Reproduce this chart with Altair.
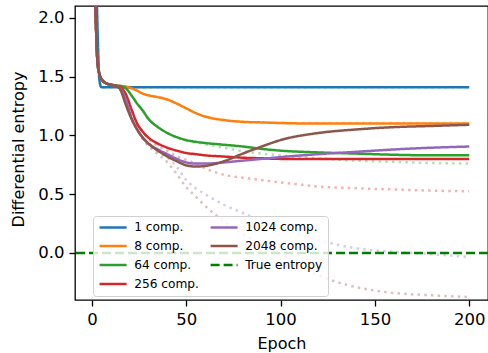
import altair as alt
import pandas as pd

# ---------------- data ----------------
EPOCHS = [1, 2, 3, 4, 5, 6, 8, 10, 12, 15, 18, 21, 24, 27, 30, 35, 40, 45, 50, 55,
          60, 70, 80, 90, 100, 120, 140, 160, 180, 200]

SERIES = ["1 comp.", "8 comp.", "64 comp.", "256 comp.", "1024 comp.", "2048 comp."]
COLORS = ["#1f77b4", "#ff7f0e", "#2ca02c", "#d62728", "#9467bd", "#8c564b"]
TRUE_LABEL = "True entropy"
TRUE_VALUE = 0.0
TRUE_COLOR = "#008000"
LEGEND_ORDER = SERIES + [TRUE_LABEL]

# solid (training) curves
C1 = [3.5, 2.6, 1.9, 1.47, 1.41, 1.41, 1.41, 1.41, 1.41, 1.41, 1.41, 1.41, 1.41, 1.41, 1.41,
      1.41, 1.41, 1.41, 1.41, 1.41, 1.41, 1.41, 1.41, 1.41, 1.41, 1.41, 1.41, 1.41, 1.41, 1.41]
C8 = [3.0, 2.05, 1.62, 1.52, 1.48, 1.46, 1.44, 1.43, 1.425, 1.42, 1.415, 1.40, 1.38, 1.355, 1.34,
      1.325, 1.305, 1.27, 1.23, 1.19, 1.16, 1.13, 1.115, 1.11, 1.105, 1.10, 1.10, 1.10, 1.10, 1.10]
C64 = [3.0, 2.05, 1.62, 1.52, 1.48, 1.46, 1.44, 1.43, 1.425, 1.42, 1.40, 1.34, 1.27, 1.21, 1.14,
       1.07, 1.02, 0.985, 0.96, 0.945, 0.935, 0.92, 0.905, 0.885, 0.87, 0.855, 0.845, 0.835, 0.83, 0.83]
C256 = [3.0, 2.05, 1.62, 1.52, 1.48, 1.46, 1.44, 1.43, 1.425, 1.41, 1.35, 1.22, 1.10, 1.03, 0.98,
        0.93, 0.895, 0.87, 0.85, 0.84, 0.83, 0.82, 0.81, 0.805, 0.80, 0.80, 0.80, 0.80, 0.80, 0.80]
C1024 = [3.0, 2.05, 1.62, 1.52, 1.48, 1.46, 1.44, 1.43, 1.425, 1.40, 1.30, 1.15, 1.05, 0.98, 0.93,
         0.88, 0.84, 0.80, 0.77, 0.76, 0.76, 0.77, 0.785, 0.80, 0.815, 0.84, 0.86, 0.88, 0.895, 0.905]
C2048 = [3.0, 2.05, 1.62, 1.52, 1.48, 1.46, 1.44, 1.43, 1.425, 1.39, 1.26, 1.14, 1.05, 0.98, 0.93,
         0.87, 0.82, 0.78, 0.745, 0.735, 0.74, 0.78, 0.845, 0.905, 0.96, 1.02, 1.05, 1.07, 1.08, 1.09]

# dotted (evaluation) curves
D1 = [3.5, 2.6, 1.9, 1.47, 1.41, 1.41, 1.41, 1.41, 1.41, 1.41, 1.41, 1.41, 1.41, 1.41, 1.41,
      1.41, 1.41, 1.41, 1.41, 1.41, 1.41, 1.41, 1.41, 1.41, 1.41, 1.41, 1.41, 1.41, 1.41, 1.41]
D8 = [3.0, 2.05, 1.62, 1.52, 1.48, 1.46, 1.44, 1.43, 1.425, 1.42, 1.415, 1.40, 1.38, 1.355, 1.34,
      1.325, 1.305, 1.27, 1.23, 1.19, 1.16, 1.13, 1.115, 1.11, 1.105, 1.105, 1.105, 1.105, 1.105, 1.105]
D64 = [3.0, 2.05, 1.62, 1.52, 1.48, 1.46, 1.44, 1.43, 1.425, 1.42, 1.40, 1.34, 1.27, 1.21, 1.14,
       1.07, 1.02, 0.98, 0.955, 0.94, 0.925, 0.895, 0.865, 0.845, 0.83, 0.805, 0.785, 0.775, 0.765, 0.76]
D256 = [3.0, 2.05, 1.62, 1.52, 1.48, 1.46, 1.44, 1.43, 1.425, 1.41, 1.35, 1.22, 1.10, 1.03, 0.97,
        0.91, 0.87, 0.82, 0.79, 0.76, 0.72, 0.665, 0.64, 0.62, 0.60, 0.565, 0.55, 0.54, 0.53, 0.525]
D1024 = [3.0, 2.05, 1.62, 1.52, 1.48, 1.46, 1.44, 1.43, 1.425, 1.40, 1.30, 1.15, 1.05, 0.97, 0.92,
         0.86, 0.81, 0.73, 0.62, 0.55, 0.50, 0.41, 0.34, 0.27, 0.21, 0.11, 0.04, 0.01, -0.01, -0.035]
D2048 = [3.0, 2.05, 1.62, 1.52, 1.48, 1.46, 1.44, 1.43, 1.425, 1.39, 1.26, 1.14, 1.05, 0.97, 0.91,
         0.84, 0.77, 0.67, 0.56, 0.48, 0.40, 0.27, 0.16, 0.07, -0.01, -0.19, -0.29, -0.34, -0.36, -0.375]

# half-widths of the shaded bands
S1 = [0.01, 0.01, 0.01, 0.01, 0.005, 0.005, 0.005, 0.005, 0.005, 0.005, 0.005, 0.005, 0.005, 0.005, 0.005,
      0.005, 0.005, 0.005, 0.005, 0.005, 0.005, 0.005, 0.005, 0.005, 0.005, 0.005, 0.005, 0.005, 0.005, 0.005]
S8 = [0.01, 0.01, 0.01, 0.01, 0.01, 0.01, 0.01, 0.01, 0.01, 0.01, 0.01, 0.02, 0.03, 0.035, 0.04,
      0.04, 0.04, 0.045, 0.045, 0.04, 0.03, 0.02, 0.015, 0.01, 0.01, 0.01, 0.01, 0.012, 0.014, 0.015]
S64 = [0.01, 0.01, 0.01, 0.01, 0.01, 0.01, 0.01, 0.01, 0.01, 0.01, 0.02, 0.04, 0.04, 0.035, 0.03,
       0.025, 0.02, 0.015, 0.015, 0.015, 0.012, 0.01, 0.01, 0.01, 0.01, 0.01, 0.01, 0.01, 0.01, 0.012]
S256 = [0.01, 0.01, 0.01, 0.01, 0.01, 0.01, 0.01, 0.01, 0.01, 0.015, 0.02, 0.025, 0.025, 0.02, 0.02,
        0.02, 0.015, 0.015, 0.015, 0.012, 0.01, 0.01, 0.01, 0.01, 0.01, 0.01, 0.01, 0.01, 0.01, 0.01]
S1024 = [0.01, 0.01, 0.01, 0.01, 0.01, 0.01, 0.01, 0.01, 0.01, 0.015, 0.02, 0.02, 0.02, 0.02, 0.02,
         0.02, 0.015, 0.015, 0.015, 0.015, 0.015, 0.012, 0.012, 0.012, 0.012, 0.012, 0.012, 0.012, 0.012, 0.012]
S2048 = [0.015, 0.015, 0.015, 0.015, 0.015, 0.015, 0.015, 0.015, 0.015, 0.02, 0.025, 0.025, 0.025, 0.025, 0.025,
         0.025, 0.02, 0.02, 0.02, 0.02, 0.02, 0.02, 0.02, 0.02, 0.02, 0.02, 0.022, 0.024, 0.026, 0.028]
T1 = S1
T8 = S8
T64 = [0.01, 0.01, 0.01, 0.01, 0.01, 0.01, 0.01, 0.01, 0.01, 0.01, 0.02, 0.03, 0.03, 0.03, 0.025,
       0.02, 0.02, 0.02, 0.02, 0.02, 0.02, 0.02, 0.02, 0.02, 0.02, 0.02, 0.02, 0.02, 0.02, 0.02]
T256 = [0.01, 0.01, 0.01, 0.01, 0.01, 0.01, 0.01, 0.01, 0.01, 0.015, 0.02, 0.025, 0.025, 0.025, 0.025,
        0.025, 0.025, 0.025, 0.025, 0.02, 0.02, 0.02, 0.02, 0.02, 0.02, 0.02, 0.02, 0.02, 0.02, 0.02]
T1024 = [0.01, 0.01, 0.01, 0.01, 0.01, 0.01, 0.01, 0.01, 0.01, 0.015, 0.02, 0.02, 0.025, 0.025, 0.03,
         0.03, 0.035, 0.04, 0.04, 0.04, 0.04, 0.04, 0.04, 0.04, 0.045, 0.045, 0.045, 0.045, 0.045, 0.045]
T2048 = [0.015, 0.015, 0.015, 0.015, 0.015, 0.015, 0.015, 0.015, 0.015, 0.02, 0.025, 0.025, 0.03, 0.035, 0.04,
         0.045, 0.05, 0.05, 0.055, 0.055, 0.06, 0.06, 0.06, 0.06, 0.06, 0.06, 0.06, 0.06, 0.06, 0.06]

TRAIN = [C1, C8, C64, C256, C1024, C2048]
TEST = [D1, D8, D64, D256, D1024, D2048]
TRAIN_SD = [S1, S8, S64, S256, S1024, S2048]
TEST_SD = [T1, T8, T64, T256, T1024, T2048]

# ---------------- build tables ----------------
rows = []
for k, name in enumerate(SERIES):
    for kind, means, sds in (("train", TRAIN[k], TRAIN_SD[k]), ("test", TEST[k], TEST_SD[k])):
        for e, m, s in zip(EPOCHS, means, sds):
            rows.append({"series": name, "order": k, "kind": kind, "epoch": e,
                         "mean": m, "lo": m - s, "hi": m + s})
df = pd.DataFrame(rows)
train_df = df[df.kind == "train"]
test_df = df[df.kind == "test"]
true_df = pd.DataFrame({"series": [TRUE_LABEL], "value": [TRUE_VALUE]})

color_map = dict(zip(SERIES, COLORS))
color_map[TRUE_LABEL] = TRUE_COLOR
color_range = [color_map[s] for s in LEGEND_ORDER]
dash_range = [[9, 4] if s == TRUE_LABEL else [1, 0] for s in LEGEND_ORDER]

FONT = "DejaVu Sans"

x_enc = alt.X("epoch:Q", scale=alt.Scale(domain=[-8.95, 209.95], nice=False, zero=False),
              axis=alt.Axis(values=[0, 50, 100, 150, 200], format="d", title="Epoch"))
y_scale = alt.Scale(domain=[-0.4, 2.1], nice=False, zero=False)
y_axis = alt.Axis(values=[0.0, 0.5, 1.0, 1.5, 2.0], format=".1f", title="Differential entropy",
                  titleY=143)

legend = alt.Legend(
    title=None, orient="none", legendX=18, legendY=210, columns=2,
    symbolType="M-1,0H5", symbolSize=81, symbolStrokeWidth=2.5, symbolOpacity=1,
    labelFont=FONT, labelFontSize=12.2, labelColor="black", labelOffset=24, labelLimit=200,
    fillColor="rgba(255,255,255,0.8)", strokeColor="#d0d0d0", cornerRadius=3, padding=5,
    rowPadding=6, columnPadding=6,
)
color_enc = alt.Color("series:N", scale=alt.Scale(domain=LEGEND_ORDER, range=color_range), legend=legend)
dash_enc = alt.StrokeDash("series:N", scale=alt.Scale(domain=LEGEND_ORDER, range=dash_range), legend=legend)

band_train = alt.Chart(train_df).mark_area(clip=True, opacity=0.3, interpolate="monotone").encode(
    x=x_enc, y=alt.Y("lo:Q", scale=y_scale, axis=y_axis), y2="hi:Q", color=color_enc,
    order="epoch:Q")
band_test = alt.Chart(test_df).mark_area(clip=True, opacity=0.14, interpolate="monotone").encode(
    x=x_enc, y=alt.Y("lo:Q", scale=y_scale, axis=y_axis), y2="hi:Q", color=color_enc,
    order="epoch:Q")
line_test = alt.Chart(test_df).mark_line(clip=True, strokeWidth=2.5, strokeDash=[2.5, 4.2], opacity=0.35,
                                         interpolate="monotone").encode(
    x=x_enc, y=alt.Y("mean:Q", scale=y_scale, axis=y_axis), color=color_enc,
    order="epoch:Q")
line_train = alt.Chart(train_df).mark_line(clip=True, strokeWidth=2.5, interpolate="monotone").encode(
    x=x_enc, y=alt.Y("mean:Q", scale=y_scale, axis=y_axis), color=color_enc, strokeDash=dash_enc,
    order="epoch:Q")
true_rule = alt.Chart(true_df).mark_rule(strokeWidth=2.5).encode(
    y=alt.Y("value:Q", scale=y_scale, axis=y_axis), color=color_enc, strokeDash=dash_enc)

chart = alt.layer(band_train, band_test, line_test, line_train, true_rule).properties(
    width=413, height=294,
    autosize=alt.AutoSizeParams(type="none"),
    padding={"left": 75, "top": 6, "right": 0, "bottom": 53},
).configure_view(
    stroke="black", strokeWidth=1.3
).configure_axis(
    domain=False, grid=False, ticks=True, tickColor="black", tickWidth=1.3, tickSize=6,
    labelFont=FONT, labelFontSize=16.5, labelColor="black", labelPadding=5,
    titleFont=FONT, titleFontSize=16, titleFontWeight="normal", titleColor="black",
).configure_axisX(titlePadding=8).configure_axisY(titlePadding=11)

chart.save("out.html", embed_options={"renderer": "svg", "actions": False})
